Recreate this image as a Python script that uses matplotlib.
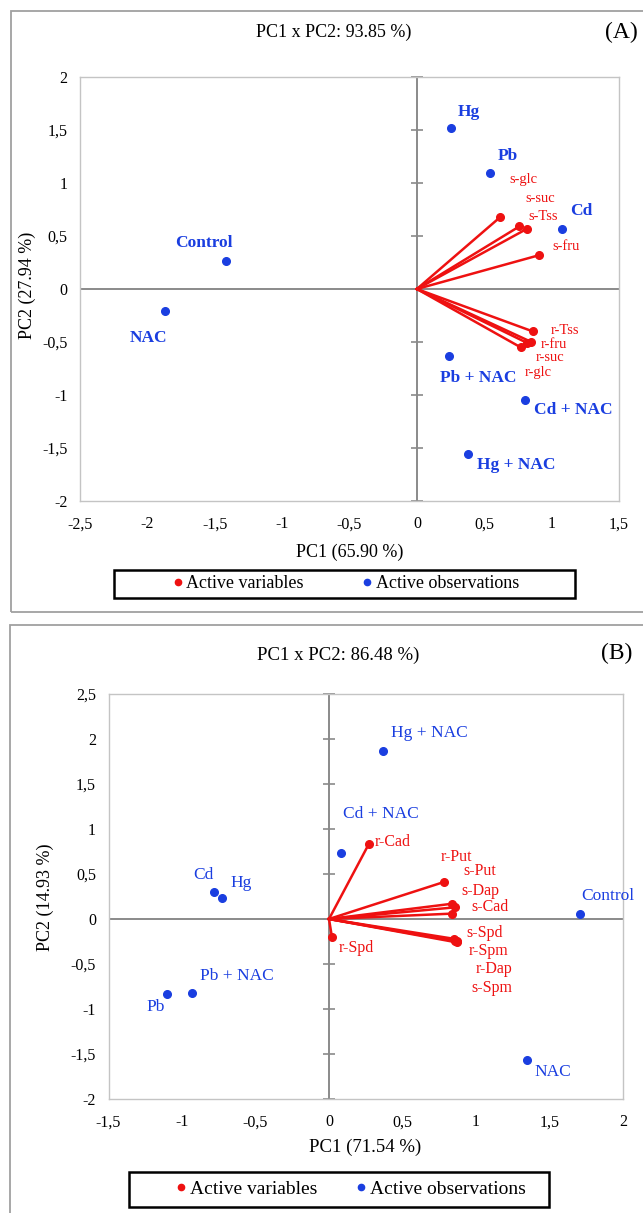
import matplotlib
matplotlib.use("Agg")
import matplotlib.pyplot as plt
from matplotlib.lines import Line2D
from matplotlib.patches import Rectangle
import numpy as np

plt.rcParams['font.family'] = ['Liberation Serif', 'DejaVu Serif']

# ---- panel A data (sugars) ----
a_obs = ['Hg', 'Pb', 'Cd', 'Control', 'NAC', 'Pb + NAC', 'Cd + NAC', 'Hg + NAC']
a_obs_x = [0.25, 0.545, 1.08, -1.42, -1.87, 0.24, 0.80, 0.38]
a_obs_y = [1.52, 1.09, 0.57, 0.26, -0.21, -0.63, -1.05, -1.56]
a_var = ['s-glc', 's-suc', 's-Tss', 's-fru', 'r-Tss', 'r-fru', 'r-suc', 'r-glc']
a_var_x = [0.62, 0.76, 0.82, 0.91, 0.86, 0.85, 0.82, 0.77]
a_var_y = [0.68, 0.59, 0.57, 0.32, -0.40, -0.50, -0.51, -0.55]
a_xticks = [-2.5, -2, -1.5, -1, -0.5, 0, 0.5, 1, 1.5]
a_xticklabels = ['-2,5', '-2', '-1,5', '-1', '-0,5', '0', '0,5', '1', '1,5']
a_yticks = [-2, -1.5, -1, -0.5, 0, 0.5, 1, 1.5, 2]
a_yticklabels = ['-2', '-1,5', '-1', '-0,5', '0', '0,5', '1', '1,5', '2']

# ---- panel B data (polyamines) ----
b_obs = ['Hg + NAC', 'Cd + NAC', 'Cd', 'Hg', 'Pb + NAC', 'Pb', 'Control', 'NAC']
b_obs_x = [0.37, 0.08, -0.78, -0.73, -0.93, -1.10, 1.71, 1.35]
b_obs_y = [1.87, 0.73, 0.30, 0.23, -0.82, -0.83, 0.05, -1.57]
b_var = ['r-Cad', 'r-Put', 's-Put', 's-Dap', 's-Cad', 's-Spd', 'r-Spm', 'r-Dap', 's-Spm', 'r-Spd']
b_var_x = [0.27, 0.78, 0.84, 0.86, 0.84, 0.85, 0.86, 0.87, 0.87, 0.02]
b_var_y = [0.83, 0.41, 0.17, 0.13, 0.06, -0.22, -0.24, -0.25, -0.26, -0.20]
b_xticks = [-1.5, -1, -0.5, 0, 0.5, 1, 1.5, 2]
b_xticklabels = ['-1,5', '-1', '-0,5', '0', '0,5', '1', '1,5', '2']
b_yticks = [-2, -1.5, -1, -0.5, 0, 0.5, 1, 1.5, 2, 2.5]
b_yticklabels = ['-2', '-1,5', '-1', '-0,5', '0', '0,5', '1', '1,5', '2', '2,5']

# label offsets in pixels (layout only)
a_obs_off = [(18, 16), (18, 17), (19, 18), (-22, 18), (-16, -27), (29, -22), (49, -10), (48, -11)]
a_var_off = [(23, 37), (21, 28), (16, 12), (27, 9), (32, 1), (22, -3), (23, -14), (18, -25)]
b_obs_off = [(46, 18), (40, 39), (-11, 17), (19, 15), (45, 17), (-12, -13), (27, 18), (25, -12)]
b_var_off = [(24, 2), (13, 25), (27, 33), (25, 16), (38, 7), (31, 6), (33, -10), (37, -28), (35, -46), (24, -11)]

BLUE = '#1a3ee0'
RED = '#ee1111'
W, H = 643, 1213

fig = plt.figure(figsize=(W / 100, H / 100), dpi=100)


def fx(px):
    return px / W


def fy(py):
    return 1 - py / H


def panel(rect, obs, ox, oy, var, vx, vy, xt, xtl, yt, ytl, obs_off, var_off,
          obs_bold, obs_fs, var_fs):
    ax = fig.add_axes(rect)
    ax.set_xlim(xt[0], xt[-1])
    ax.set_ylim(yt[0], yt[-1])
    for s in ax.spines.values():
        s.set_color('#c4c4c4')
        s.set_linewidth(1.0)
    ax.axhline(0, color='#8a8a8a', lw=1.4, zorder=1)
    ax.axvline(0, color='#8a8a8a', lw=1.4, zorder=1)
    ax.plot(np.zeros(len(yt)), yt, ls='none', marker='_', ms=8, mew=1.2,
            color='#8a8a8a', clip_on=False, zorder=1)
    ax.set_xticks(xt)
    ax.set_xticklabels(xtl, fontsize=11.5)
    ax.set_yticks(yt)
    ax.set_yticklabels(ytl, fontsize=11.5)
    ax.tick_params(axis='x', length=0, pad=11)
    ax.tick_params(axis='y', length=0, pad=9)
    for x, y in zip(vx, vy):
        ax.plot([0, x], [0, y], color=RED, lw=1.8, zorder=2)
    ax.plot(vx, vy, ls='none', marker='o', ms=5.5, color=RED, zorder=3)
    ax.plot(ox, oy, ls='none', marker='o', ms=5.5, color=BLUE, zorder=3)
    for name, x, y, off in zip(obs, ox, oy, obs_off):
        ax.annotate(name, (x, y), xytext=off, textcoords='offset pixels',
                    ha='center', va='center', color=BLUE, fontsize=obs_fs,
                    fontweight='bold' if obs_bold else 'normal')
    for name, x, y, off in zip(var, vx, vy, var_off):
        ax.annotate(name, (x, y), xytext=off, textcoords='offset pixels',
                    ha='center', va='center', color=RED, fontsize=var_fs)
    return ax


# outer panel frames
fig.patches.append(Rectangle((fx(11), fy(612)), fx(660) - fx(11), fy(11) - fy(612),
                             transform=fig.transFigure, fill=False,
                             edgecolor='#a0a0a0', lw=1.3))
fig.patches.append(Rectangle((fx(10), fy(1230)), fx(660) - fx(10), fy(625) - fy(1230),
                             transform=fig.transFigure, fill=False,
                             edgecolor='#a0a0a0', lw=1.3))

axA = panel([fx(80), fy(501), fx(619) - fx(80), fy(77) - fy(501)],
            a_obs, a_obs_x, a_obs_y, a_var, a_var_x, a_var_y,
            a_xticks, a_xticklabels, a_yticks, a_yticklabels,
            a_obs_off, a_var_off, True, 12.5, 10.5)
axB = panel([fx(108.5), fy(1099), fx(623) - fx(108.5), fy(694) - fy(1099)],
            b_obs, b_obs_x, b_obs_y, b_var, b_var_x, b_var_y,
            b_xticks, b_xticklabels, b_yticks, b_yticklabels,
            b_obs_off, b_var_off, False, 12.5, 11.5)

# titles and axis labels
fig.text(fx(334), fy(32), 'PC1 x PC2: 93.85 %)', ha='center', va='center', fontsize=13)
fig.text(fx(621), fy(32), '(A)', ha='center', va='center', fontsize=17)
fig.text(fx(350), fy(552), 'PC1 (65.90 %)', ha='center', va='center', fontsize=13)
fig.text(fx(27), fy(285), 'PC2 (27.94 %)', ha='center', va='center', fontsize=13, rotation=90)

fig.text(fx(338), fy(655), 'PC1 x PC2: 86.48 %)', ha='center', va='center', fontsize=13.5)
fig.text(fx(617), fy(653), '(B)', ha='center', va='center', fontsize=17)
fig.text(fx(365), fy(1147), 'PC1 (71.54 %)', ha='center', va='center', fontsize=13.5)
fig.text(fx(45), fy(897), 'PC2 (14.93 %)', ha='center', va='center', fontsize=13, rotation=90)

# legends
handles = [Line2D([], [], ls='none', marker='o', ms=4.5, color=RED),
           Line2D([], [], ls='none', marker='o', ms=4.5, color=BLUE)]
labels = ['Active variables', 'Active observations']

fig.patches.append(Rectangle((fx(114), fy(598)), fx(575) - fx(114), fy(570) - fy(598),
                             transform=fig.transFigure, fill=False,
                             edgecolor='black', lw=1.8))
fig.legend(handles, labels, loc='center', bbox_to_anchor=(fx(346), fy(584)),
           ncols=2, frameon=False, fontsize=13, handlelength=0.5,
           handletextpad=0.2, columnspacing=3.3, borderpad=0)

fig.patches.append(Rectangle((fx(129), fy(1207)), fx(549) - fx(129), fy(1172) - fy(1207),
                             transform=fig.transFigure, fill=False,
                             edgecolor='black', lw=1.8))
fig.legend(handles, labels, loc='center', bbox_to_anchor=(fx(351), fy(1189)),
           ncols=2, frameon=False, fontsize=14, handlelength=0.5,
           handletextpad=0.2, columnspacing=2.0, borderpad=0)

fig.savefig('out.png', dpi=100)
